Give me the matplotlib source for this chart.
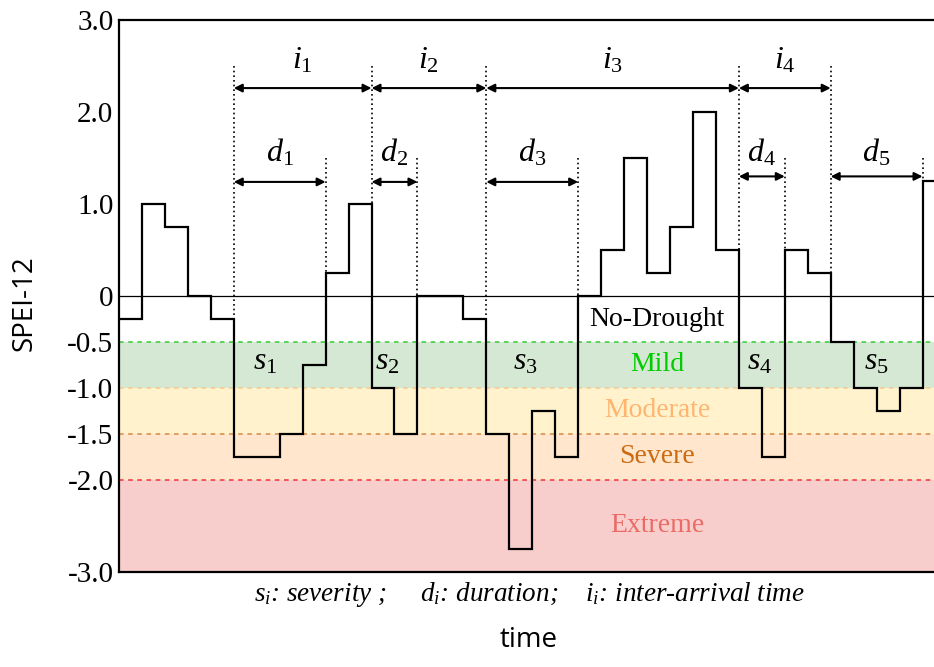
import numpy as np
import matplotlib
matplotlib.use('Agg')
from matplotlib import pyplot as plt

plt.rcParams['font.family'] = 'Liberation Serif'
plt.rcParams['mathtext.fontset'] = 'custom'
plt.rcParams['mathtext.rm'] = 'Liberation Serif'
plt.rcParams['mathtext.it'] = 'Liberation Serif:italic'

# SPEI-12 value of each time step
spei = [-0.25, 1.0, 0.75, 0.0, -0.25, -1.75, -1.75, -1.5, -0.75, 0.25,
        1.0, -1.0, -1.5, 0.0, 0.0, -0.25, -1.5, -2.75, -1.25, -1.75,
        0.0, 0.5, 1.5, 0.25, 0.75, 2.0, 0.5, -1.0, -1.75, 0.5,
        0.25, -0.5, -1.0, -1.25, -1.0, 1.25]

# drought classes
bands_lo = [-1.0, -1.5, -2.0, -3.0]
bands_hi = [-0.5, -1.0, -1.5, -2.0]
band_cols = ['#d5e8d4', '#fff2cc', '#ffe6cc', '#f8cecc']
line_cols = ['#33cc33', '#f5c98f', '#d68a45', '#ee3333']
class_names = ['No-Drought', 'Mild', 'Moderate', 'Severe', 'Extreme']
class_cols = ['black', '#00cc00', '#ffb570', '#cc6a10', '#ea6b66']
class_y = [-0.25, -0.74, -1.24, -1.74, -2.5]

# event boundaries (time step index)
i_starts = [5, 11, 16, 27]
i_ends = [11, 16, 27, 31]
d_starts = [5, 11, 16, 27, 31]
d_ends = [9, 13, 20, 29, 35]
d_arrow_y = [1.24, 1.24, 1.24, 1.30, 1.30]
s_x = [6.36, 11.7, 17.7, 27.9, 33.0]

fig = plt.figure(figsize=(9.34, 6.67), dpi=100)
ax = fig.add_axes([119 / 934, 1 - 572 / 667, 1 - 119 / 934, (572 - 20) / 667])

edges = np.arange(len(spei) + 1)
for lo, hi, bc, lc in zip(bands_lo, bands_hi, band_cols, line_cols):
    ax.axhspan(lo, hi, color=bc, lw=0, zorder=0)
    ax.axhline(hi, color=lc, ls=(0, (3, 3)), lw=1.1, zorder=1)
ax.axhline(0, color='black', lw=0.9, zorder=2)

ax.stairs(spei, edges, baseline=None, color='black', lw=1.6, zorder=3)

for name, c, y in zip(class_names, class_cols, class_y):
    ax.text(23.43, y, name, color=c, fontsize=20, ha='center', va='center')

dot = dict(color='black', ls=(0, (1, 1.8)), lw=1.2, zorder=2)
arrow = dict(arrowstyle='<|-|>', color='black', lw=1.5, mutation_scale=12,
             shrinkA=0, shrinkB=0)

# vertical dotted markers from top down to the curve
i_marks = sorted(set(i_starts + i_ends))
for x in i_marks:
    ax.plot([x, x], [2.5, max(spei[x - 1], spei[x])], **dot)
for x in d_ends:
    if x not in i_marks:
        ax.plot([x, x], [1.5, max(spei[x - 1], spei[x])], **dot)

# inter-arrival times
for n, (a, b) in enumerate(zip(i_starts, i_ends)):
    ax.annotate('', xy=(b, 2.26), xytext=(a, 2.26), arrowprops=arrow)
    ax.text((a + b) / 2, 2.56, r'$i_{\mathit{%d}}$' % (n + 1), fontsize=23,
            ha='center', va='center')

# durations
for n, (a, b, y) in enumerate(zip(d_starts, d_ends, d_arrow_y)):
    ax.annotate('', xy=(b, y), xytext=(a, y), arrowprops=arrow)
    ax.text((a + b) / 2, 1.56, r'$d_{\mathit{%d}}$' % (n + 1), fontsize=23,
            ha='center', va='center')

# severities
for n, x in enumerate(s_x):
    ax.text(x, -0.72, r'$s_{\mathit{%d}}$' % (n + 1), fontsize=23,
            ha='center', va='center')

ax.text(17.9, -3.24,
        r'$s_i$: severity ;     $d_i$: duration;    $i_i$: inter-arrival time',
        fontsize=19.5, style='italic', ha='center', va='center', clip_on=False)

ax.set_xlim(0, 35.5)
ax.set_ylim(-3, 3)
ax.set_yticks([3, 2, 1, 0, -0.5, -1, -1.5, -2, -3])
ax.set_yticklabels(['3.0', '2.0', '1.0', '0', '-0.5', '-1.0', '-1.5', '-2.0', '-3.0'])
ax.tick_params(axis='y', length=0, labelsize=21, pad=4)
ax.set_xticks([])
ax.spines['right'].set_visible(False)
for s in ('left', 'top', 'bottom'):
    ax.spines[s].set_linewidth(1.6)

fig.text(25 / 934, 1 - 303 / 667, 'SPEI-12', family='Open Sans', fontsize=20,
         rotation=90, ha='center', va='center')
fig.text(529 / 934, 1 - 640 / 667, 'time', family='Open Sans', fontsize=20,
         ha='center', va='center')

fig.savefig('out.png', dpi=100)
